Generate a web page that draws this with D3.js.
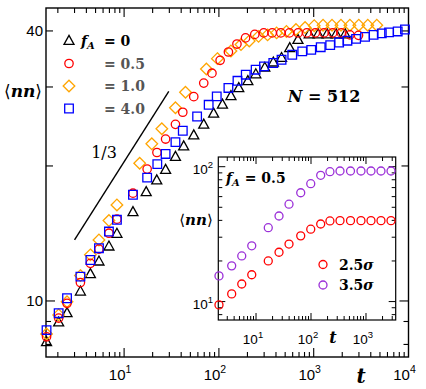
<!DOCTYPE html>
<html>
<head>
<meta charset="utf-8">
<script src="https://cdn.jsdelivr.net/npm/d3@7"></script>
<style>
  body { margin: 0; background: #fff; }
  svg { display: block; }
</style>
</head>
<body>
<svg id="graph"></svg>
<script>
// main panel, fA = 0 (black triangles)
const tA0 = [1.52, 2.04, 2.50, 3.46, 4.41, 5.43, 6.92, 8.40, 12.4, 17.1, 22.1, 27.4, 34.8, 42.5, 54.3, 69.2, 88,
             109, 134, 162, 202, 245, 305, 375, 458, 559, 682, 897, 1115, 1387, 1725, 2148];
const nnA0 = [8.09, 8.95, 9.39, 10.49, 11.47, 12.24, 13.22, 14.11, 15.77, 17.48, 18.56, 19.59, 20.94, 22.11, 23.38, 24.72, 26.15,
              27.38, 28.6, 29.8, 30.9, 32.0, 33.1, 34.0, 34.8, 36.6, 38.2, 39.3, 39.3, 39.3, 39.3, 39.3];

// fA = 0.5 (red circles)
const tA05 = [1.52, 2.04, 2.50, 3.46, 4.41, 5.43, 6.92, 8.40, 12.4, 17.5, 22.2, 27.4, 34.8, 41.6, 54.3, 69.2, 84.5,
              103, 126, 155, 191, 239, 297, 365, 450, 555, 685, 845, 1040, 1285, 1585, 1955, 2410, 2970];
const nnA05 = [8.32, 9.16, 9.88, 10.99, 12.13, 13.05, 14.16, 15.22, 17.39, 19.68, 21.43, 22.96, 24.76, 26.35, 28.55, 30.6, 32.2,
               34.4, 35.9, 37.4, 38.6, 39.3, 39.6, 39.6, 39.6, 39.6, 39.6, 39.6, 39.6, 39.6, 39.6, 39.6, 39.2, 39.1];

// fA = 1.0 (orange diamonds)
const tA1 = [1.52, 2.04, 2.50, 3.46, 4.41, 5.43, 6.92, 8.40, 14.6, 19.6, 25.0, 34.8, 44.4, 73.8, 96.4,
             134, 171, 209, 262, 326, 406, 516, 650, 811, 1013, 1255, 1560, 1940, 2410, 2990, 3720, 4630];
const nnA1 = [8.44, 9.31, 9.96, 11.39, 12.67, 13.68, 15.11, 16.37, 20.28, 22.41, 24.21, 26.97, 29.2, 32.9, 34.7,
              36.1, 37.3, 38.0, 38.9, 39.2, 39.6, 39.9, 40.3, 40.7, 41.1, 41.2, 41.2, 41.2, 41.2, 41.2, 41.2, 41.2];

// fA = 4.0 (blue squares)
const tA4 = [1.52, 2.04, 2.50, 3.46, 4.41, 5.43, 6.92, 8.40, 12.4, 17.5, 22.4, 27.4, 34.8, 41.6, 58.9, 78, 94.9,
             126, 157, 192, 244, 299, 375, 458, 594, 757, 942, 1186, 1493, 1854, 2268, 2800, 3483, 4284, 5226, 6237, 7694, 9181];
const nnA4 = [8.61, 9.39, 10.14, 11.33, 12.34, 13.11, 14.28, 15.17, 17.25, 18.84, 20.19, 21.27, 22.6, 23.96, 25.78, 27.38, 28.58,
              29.85, 30.97, 31.95, 32.78, 33.34, 33.93, 34.5, 35.4, 36.02, 36.3, 36.8, 37.2, 37.7, 38.05, 38.4, 38.8, 39.2, 39.5, 39.7, 39.9, 40.3];

// slope guide, exponent 1/3
const slopeT = [3.0, 29.6];
const slopeNn0 = 13.68;

// inset, fA = 0.5
const tIn = [2.12, 3.61, 5.5, 8.36, 16.7, 26.2, 39.8, 65, 98.9, 150, 221, 337, 523, 811, 1233, 1874, 2851];
const nn25 = [9.45, 11.4, 13.5, 15.8, 20.0, 23.2, 26.7, 30.7, 34.4, 37.6, 39.6, 39.8, 39.8, 39.8, 39.8, 39.8, 39.8];
const nn35 = [15.5, 18.4, 21.8, 25.9, 35.3, 43.1, 52.7, 64.1, 74.8, 86.3, 91.8, 92.9, 92.9, 92.9, 92.9, 92.9, 92.9];

const xTickLabels = ["1", "2", "3", "4"];
const yTickLabels = [10, 40];

const WIDTH = 426, HEIGHT = 389;
const box = {left: 46, top: 8, right: 408.5, bottom: 357};
const ibox = {left: 218.3, top: 157, right: 395.7, bottom: 320};

const serif = "'DejaVu Serif', serif";
const sans = "'Liberation Sans', Arial, sans-serif";

const svg = d3.select("#graph").attr("width", WIDTH).attr("height", HEIGHT);

const x = d3.scaleLog().domain([1.5, 1e4]).range([box.left, box.right]);
const y = d3.scaleLog().domain([7.5, 45]).range([box.bottom, box.top]);

function shape(type) {
  if (type === "tri") return "M0,-5.6L5,3.4L-5,3.4Z";
  if (type === "sq") return "M-4.3,-4.3h8.6v8.6h-8.6Z";
  if (type === "dia") return "M0,-5.8L5.8,0L0,5.8L-5.8,0Z";
  return d3.path ? circlePath(4.2) : "";
}
function circlePath(r) {
  return `M${r},0A${r},${r} 0 1,1 ${-r},0A${r},${r} 0 1,1 ${r},0Z`;
}
const isPow10 = v => Math.abs(Math.log10(v) - Math.round(Math.log10(v))) < 1e-9;

// main frame and ticks
const axes = svg.append("g").attr("stroke", "#000").attr("fill", "none");
axes.append("rect")
  .attr("x", box.left).attr("y", box.top)
  .attr("width", box.right - box.left).attr("height", box.bottom - box.top)
  .attr("stroke-width", 1.4);

const xt = x.ticks().filter(v => v > 1.5 && v < 1e4);
axes.selectAll(".xb").data(xt).join("line")
  .attr("x1", d => x(d)).attr("x2", d => x(d))
  .attr("y1", box.bottom).attr("y2", d => box.bottom - (isPow10(d) ? 9 : 5))
  .attr("stroke-width", 1.1);
axes.selectAll(".xt").data(xt).join("line")
  .attr("x1", d => x(d)).attr("x2", d => x(d))
  .attr("y1", box.top).attr("y2", d => box.top + (isPow10(d) ? 9 : 5))
  .attr("stroke-width", 1.1);

const yt = y.ticks();
const ylen = d => d === 10 ? 9 : (d >= 20 ? 7 : 5);
axes.selectAll(".yl").data(yt).join("line")
  .attr("x1", box.left).attr("x2", d => box.left + ylen(d))
  .attr("y1", d => y(d)).attr("y2", d => y(d)).attr("stroke-width", 1.1);
axes.selectAll(".yr").data(yt).join("line")
  .attr("x1", box.right).attr("x2", d => box.right - ylen(d))
  .attr("y1", d => y(d)).attr("y2", d => y(d)).attr("stroke-width", 1.1);

// tick labels
const xl = svg.append("g").attr("font-family", sans).attr("font-size", 15).attr("fill", "#000");
xl.selectAll("text").data(xTickLabels).join("text")
  .attr("x", d => x(Math.pow(10, +d)) - 4)
  .attr("y", 380)
  .attr("text-anchor", "middle")
  .each(function(d) {
    const t = d3.select(this);
    t.append("tspan").text("10");
    t.append("tspan").attr("dy", -7).attr("font-size", 10.5).text(d);
  });
svg.append("g").attr("font-family", sans).attr("font-size", 15)
  .selectAll("text").data(yTickLabels).join("text")
  .attr("x", 43).attr("y", d => y(d) + 5.5)
  .attr("text-anchor", "end").text(d => d);

// axis titles
svg.append("text").attr("x", 23).attr("y", 97).attr("text-anchor", "middle")
  .attr("font-family", serif).attr("font-size", 17)
  .html('⟨<tspan font-style="italic" font-weight="bold">nn</tspan>⟩');
svg.append("text").attr("x", 361).attr("y", 383).attr("text-anchor", "middle")
  .attr("font-family", serif).attr("font-size", 20).attr("font-style", "italic").attr("font-weight", "bold")
  .text("t");

// slope line
const line = d3.line().x(d => x(d[0])).y(d => y(d[1]));
svg.append("path")
  .attr("d", line(slopeT.map(t => [t, slopeNn0 * Math.pow(t / slopeT[0], 1 / 3)])))
  .attr("stroke", "#000").attr("stroke-width", 1.4).attr("fill", "none");
svg.append("text").attr("x", 104).attr("y", 158).attr("text-anchor", "middle")
  .attr("font-family", serif).attr("font-size", 16).text("1/3");

// data series
const series = [
  {t: tA0, v: nnA0, type: "tri", color: "#000"},
  {t: tA1, v: nnA1, type: "dia", color: "#ffa500"},
  {t: tA05, v: nnA05, type: "circ", color: "#ff0000"},
  {t: tA4, v: nnA4, type: "sq", color: "#0000ff"}
];
series.forEach(s => {
  svg.append("g")
    .attr("fill", "none").attr("stroke", s.color).attr("stroke-width", 1.3)
    .selectAll("path").data(d3.zip(s.t, s.v)).join("path")
    .attr("d", s.type === "circ" ? circlePath(4.2) : shape(s.type))
    .attr("transform", d => `translate(${x(d[0])},${y(d[1])})`);
});

// legend
const legend = [
  {type: "tri", color: "#000", y: 41},
  {type: "circ", color: "#ff0000", y: 63.5},
  {type: "dia", color: "#ffa500", y: 86},
  {type: "sq", color: "#0000ff", y: 108.5}
];
const lg = svg.append("g");
lg.selectAll("path").data(legend).join("path")
  .attr("d", d => d.type === "circ" ? circlePath(4.2) : shape(d.type))
  .attr("transform", d => `translate(69,${d.y})`)
  .attr("fill", "none").attr("stroke", d => d.color).attr("stroke-width", 1.3);
const lt = lg.append("g").attr("font-family", serif).attr("font-size", 14).attr("font-weight", "bold");
lt.append("text").attr("x", 81).attr("y", 46)
  .html('<tspan font-style="italic">f</tspan><tspan font-size="10" dy="3" font-style="italic">A</tspan>');
lt.append("text").attr("x", 104).attr("y", 46).text("= 0");
["= 0.5", "= 1.0", "= 4.0"].forEach((s, i) => {
  lt.append("text").attr("x", 104).attr("y", 68.5 + i * 22.5).attr("fill", "#555").text(s);
});

svg.append("text").attr("x", 324).attr("y", 102).attr("text-anchor", "middle")
  .attr("font-family", serif).attr("font-size", 16).attr("font-weight", "bold")
  .html('<tspan font-style="italic">N</tspan> = 512');

// inset
const xi = d3.scaleLog().domain([2.06, 3470]).range([ibox.left, ibox.right]);
const yi = d3.scaleLog().domain([7.3, 118]).range([ibox.bottom, ibox.top]);

const ins = svg.append("g");
ins.append("rect")
  .attr("x", ibox.left).attr("y", ibox.top)
  .attr("width", ibox.right - ibox.left).attr("height", ibox.bottom - ibox.top)
  .attr("fill", "#fff").attr("stroke", "#000").attr("stroke-width", 1.2);

const it = ins.append("g").attr("stroke", "#000").attr("stroke-width", 1);
const xit = xi.ticks().filter(v => v > 2.06 && v < 3470);
it.selectAll(".b").data(xit).join("line")
  .attr("x1", d => xi(d)).attr("x2", d => xi(d))
  .attr("y1", ibox.bottom).attr("y2", d => ibox.bottom - (isPow10(d) ? 7 : 4));
it.selectAll(".t").data(xit).join("line")
  .attr("x1", d => xi(d)).attr("x2", d => xi(d))
  .attr("y1", ibox.top).attr("y2", d => ibox.top + (isPow10(d) ? 7 : 4));
const yit = yi.ticks().filter(v => v > 7.3 && v < 118);
it.selectAll(".l").data(yit).join("line")
  .attr("x1", ibox.left).attr("x2", d => ibox.left + (isPow10(d) ? 7 : 4))
  .attr("y1", d => yi(d)).attr("y2", d => yi(d));
it.selectAll(".r").data(yit).join("line")
  .attr("x1", ibox.right).attr("x2", d => ibox.right - (isPow10(d) ? 7 : 4))
  .attr("y1", d => yi(d)).attr("y2", d => yi(d));

const il = ins.append("g").attr("font-family", sans).attr("font-size", 13.5);
[1, 2, 3].forEach(p => {
  const t = il.append("text").attr("x", xi(Math.pow(10, p)) - 3).attr("y", 344).attr("text-anchor", "middle");
  t.append("tspan").text("10");
  t.append("tspan").attr("dy", -6).attr("font-size", 9.5).text(p);
});
[1, 2].forEach(p => {
  const t = il.append("text").attr("x", 213).attr("y", yi(Math.pow(10, p)) + 7).attr("text-anchor", "end");
  t.append("tspan").text("10");
  t.append("tspan").attr("dy", -6).attr("font-size", 9.5).text(p);
});
ins.append("text").attr("x", 333).attr("y", 343).attr("text-anchor", "middle")
  .attr("font-family", serif).attr("font-size", 16).attr("font-style", "italic").attr("font-weight", "bold")
  .text("t");
ins.append("text").attr("x", 196).attr("y", 225).attr("text-anchor", "middle")
  .attr("font-family", serif).attr("font-size", 15)
  .html('⟨<tspan font-style="italic" font-weight="bold">nn</tspan>⟩');
ins.append("text").attr("x", 226).attr("y", 183)
  .attr("font-family", serif).attr("font-size", 14).attr("font-weight", "bold")
  .html('<tspan font-style="italic">f</tspan><tspan font-size="10" dy="3" font-style="italic">A</tspan><tspan dy="-3"> = 0.5</tspan>');

const inSeries = [
  {v: nn25, color: "#ff0000"},
  {v: nn35, color: "#9b30d8"}
];
inSeries.forEach(s => {
  ins.append("g").attr("fill", "none").attr("stroke", s.color).attr("stroke-width", 1.3)
    .selectAll("path").data(d3.zip(tIn, s.v)).join("path")
    .attr("d", circlePath(4))
    .attr("transform", d => `translate(${xi(d[0])},${yi(d[1])})`);
});

const ilg = ins.append("g").attr("font-family", serif).attr("font-size", 14).attr("font-weight", "bold");
[{label: "2.5", color: "#ff0000", y: 264.5}, {label: "3.5", color: "#9b30d8", y: 285}].forEach(d => {
  ilg.append("path").attr("d", circlePath(4)).attr("transform", `translate(323,${d.y})`)
    .attr("fill", "none").attr("stroke", d.color).attr("stroke-width", 1.3);
  ilg.append("text").attr("x", 339).attr("y", d.y + 5)
    .html(`${d.label}<tspan font-style="italic">σ</tspan>`);
});
</script>
</body>
</html>
